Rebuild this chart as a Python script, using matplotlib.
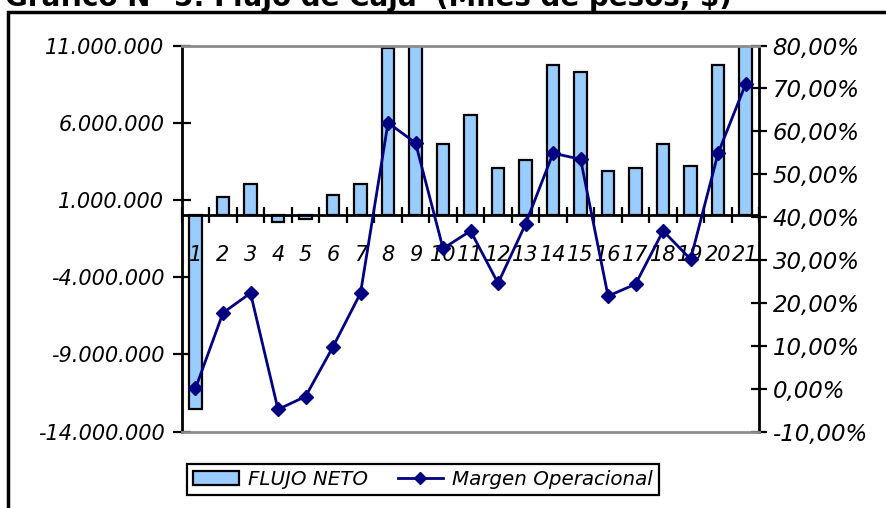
"""Flujo neto vs margen operacional (combo bar + line chart)."""

import matplotlib

matplotlib.use("Agg")
import matplotlib.pyplot as plt
import numpy as np
from matplotlib.lines import Line2D
from matplotlib.patches import Patch, Rectangle
from matplotlib.ticker import FixedLocator, FuncFormatter

periods = list(range(1, 22))
flujo_neto = [
    -12_520_000, 1_170_000, 2_030_000, -450_000, -250_000, 1_340_000, 2_030_000,
    10_840_000, 12_500_000, 4_620_000, 6_520_000, 3_040_000, 3_590_000, 9_760_000,
    9_260_000, 2_900_000, 3_070_000, 4_620_000, 3_220_000, 9_760_000, 13_000_000,
]
margen_operacional = [
    0.1, 17.7, 22.3, -4.8, -1.8, 9.8, 22.3, 62.0, 57.3, 32.7, 36.8,
    24.6, 38.4, 54.9, 53.5, 21.6, 24.4, 36.8, 30.2, 54.9, 71.0,
]
left_ticks = [11_000_000, 6_000_000, 1_000_000, -4_000_000, -9_000_000, -14_000_000]
right_ticks = [80, 70, 60, 50, 40, 30, 20, 10, 0, -10]

BAR_COLOR = "#99CCFF"
LINE_COLOR = "#000080"
FONT = {"family": "DejaVu Sans", "style": "italic"}


def miles(value, _pos=None):
    text = f"{abs(value):,.0f}".replace(",", ".")
    return f"-{text}" if value < 0 else text


def porcentaje(value, _pos=None):
    return f"{value:.2f}".replace(".", ",") + "%"


plt.rcParams.update({"font.family": "DejaVu Sans", "font.style": "italic"})

fig = plt.figure(figsize=(8.87, 5.08), dpi=100)
axis = fig.add_axes([0.2049, 0.1502, 0.6512, 0.7602])
axis_right = axis.twinx()

x = np.array(periods)
axis.bar(x, flujo_neto, width=0.45, color=BAR_COLOR, edgecolor="black", linewidth=1.6, zorder=2)
axis.set_xlim(0.5, 21.5)
axis.set_ylim(-14_000_000, 11_000_000)
axis.yaxis.set_major_locator(FixedLocator(left_ticks))
axis.yaxis.set_major_formatter(FuncFormatter(miles))

# category axis sits at zero, ticks between categories, labels centred
axis.spines["bottom"].set_position(("data", 0))
axis.spines["bottom"].set_linewidth(2)
axis.spines["bottom"].set_zorder(3)
axis.xaxis.set_zorder(3)
axis.set_xticks(np.arange(0.5, 22.0, 1.0))
axis.set_xticklabels([])
axis.set_xticks(x, minor=True)
axis.set_xticklabels([str(p) for p in periods], minor=True, fontsize=15, **FONT)
axis.tick_params(axis="x", which="major", direction="inout", length=11, width=1.6)
axis.tick_params(axis="x", which="minor", length=0, pad=21)

axis.spines["left"].set_linewidth(2)
axis.tick_params(axis="y", direction="inout", length=13, width=1.6, pad=6, labelsize=15)
for side in ("top", "right"):
    axis.spines[side].set_visible(False)

axis_right.plot(
    x, margen_operacional, color=LINE_COLOR, linewidth=2, marker="D", markersize=7,
    zorder=4, clip_on=False,
)
axis_right.set_ylim(-10, 80)
axis_right.yaxis.set_major_locator(FixedLocator(right_ticks))
axis_right.yaxis.set_major_formatter(FuncFormatter(porcentaje))
axis_right.tick_params(axis="y", direction="inout", length=11, width=1.6, pad=4, labelsize=16.5)
axis_right.spines["right"].set_linewidth(2)
axis_right.spines["left"].set_visible(False)
for side in ("top", "bottom"):
    axis_right.spines[side].set_color("#8c8c8c")
    axis_right.spines[side].set_linewidth(2)

for label in axis.get_yticklabels() + axis_right.get_yticklabels():
    label.set_fontstyle("italic")

handles = [
    Patch(facecolor=BAR_COLOR, edgecolor="black", linewidth=1.6),
    Line2D([], [], color=LINE_COLOR, linewidth=2, marker="D", markersize=6),
]
legend = fig.legend(
    handles, ["FLUJO NETO", "Margen Operacional"], loc="center",
    bbox_to_anchor=(0.477, 0.056), ncol=2, fancybox=False, framealpha=1,
    edgecolor="black", prop={"size": 14.3, **FONT}, handlelength=2.3,
    columnspacing=1.5, borderpad=0.3, handletextpad=0.45, borderaxespad=0,
)
legend.get_frame().set_linewidth(1.6)

# outer chart frame, runs off the right and bottom edge
fig.patches.append(
    Rectangle((8 / 887, -0.2), 1.2, 1.2 - 12 / 508, transform=fig.transFigure,
              fill=False, edgecolor="black", linewidth=2.5)
)
# chart title, cut off by the top edge of the image as in the original
fig.text(0.006, 1.0 - 6 / 508, "Gráfico N° 5: Flujo de Caja  (Miles de pesos, $)",
         fontsize=20, fontweight="bold", style="normal", va="baseline", ha="left")

fig.savefig("out.png", dpi=100)
